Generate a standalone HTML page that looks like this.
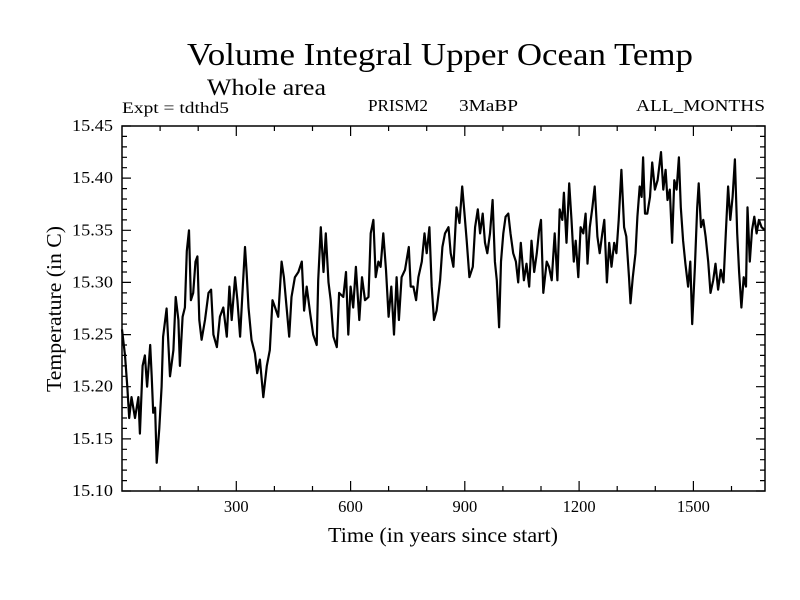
<!DOCTYPE html>
<html><head><meta charset="utf-8"><style>
body{margin:0;background:#fff;}
svg{display:block;font-family:"Liberation Serif",serif;}
</style></head><body>
<svg id="chart" width="800" height="600" viewBox="0 0 800 600">
<rect width="800" height="600" fill="#fff"/>
<text x="187" y="65" font-size="32" textLength="506" lengthAdjust="spacingAndGlyphs">Volume Integral Upper Ocean Temp</text>
<text x="207" y="95" font-size="23" textLength="119" lengthAdjust="spacingAndGlyphs">Whole area</text>
<text x="122" y="113" font-size="16" textLength="107" lengthAdjust="spacingAndGlyphs">Expt = tdthd5</text>
<text x="368" y="111" font-size="17" textLength="60" lengthAdjust="spacingAndGlyphs">PRISM2</text>
<text x="459" y="111" font-size="17" textLength="59" lengthAdjust="spacingAndGlyphs">3MaBP</text>
<text x="636" y="111" font-size="17" textLength="129" lengthAdjust="spacingAndGlyphs">ALL_MONTHS</text>
<g id="axes"></g>
<g id="series"></g>
<text x="328" y="542" font-size="21" textLength="230" lengthAdjust="spacingAndGlyphs">Time (in years since start)</text>
<text transform="translate(61,392) rotate(-90)" font-size="21" textLength="166" lengthAdjust="spacingAndGlyphs">Temperature (in C)</text>
</svg>
<script>
const years=[0,8,14,19,25,34,43,47,54,60,66,74,78,82,87,91,98,104,108,117,126,135,141,148,152,159,165,170,176,181,187,193,198,203,209,218,227,234,240,249,257,266,275,282,288,297,303,310,317,323,327,332,340,349,355,362,371,380,388,395,402,410,419,425,432,439,445,454,463,472,478,485,494,502,511,515,522,529,535,542,548,555,564,570,
581,588,594,600,607,614,623,630,638,647,653,660,666,673,679,686,693,700,707,714,721,727,734,743,753,758,765,772,778,787,794,800,807,813,819,826,835,841,848,857,863,870,878,886,893,899,905,912,921,927,934,940,947,953,959,966,973,979,984,990,995,1001,1007,1014,1020,1027,1034,1040,1047,1055,1062,1069,1075,1082,1089,1095,1100,1106,1115,
1121,1128,1136,1143,1149,1156,1160,1167,1174,1180,1186,1191,1198,1204,1211,1217,1222,1228,1235,1241,1248,1254,1261,1266,1273,1279,1285,1292,1298,1304,1311,1318,1324,1331,1335,1341,1348,1353,1359,1364,1368,1373,1379,1386,1392,1399,1406,1415,1421,1427,1432,1438,1444,1450,1456,1462,1467,1473,1479,1486,1492,1497,1504,1510,1514,1520,1526,1532,1539,1545,1552,1558,1565,1572,1579,1585,1591,1597,1603,1609,1615,1620,1626,1632,1638,1642,1648,1654,1660,1666,1672,1679,1688];
const temps=[15.255,15.23,15.20,15.17,15.19,15.17,15.19,15.155,15.22,15.23,15.20,15.24,15.21,15.175,15.18,15.127,15.16,15.20,15.248,15.275,15.21,15.235,15.286,15.264,15.22,15.267,15.276,15.33,15.35,15.283,15.29,15.32,15.325,15.264,15.245,15.264,15.29,15.293,15.25,15.238,15.267,15.276,15.248,15.296,15.264,15.305,15.283,15.248,15.296,15.334,15.31,15.276,15.245,15.232,15.213,15.226,15.19,15.22,15.235,15.283,15.276,15.267,15.32,15.305,15.276,15.248,15.286,15.305,15.31,15.32,15.273,15.296,15.27,15.25,15.24,15.302,15.353,15.31,15.347,15.30,15.283,15.248,15.238,15.29,
15.286,15.31,15.25,15.296,15.276,15.315,15.264,15.305,15.283,15.286,15.347,15.36,15.305,15.32,15.315,15.347,15.312,15.267,15.296,15.25,15.305,15.264,15.305,15.312,15.334,15.296,15.296,15.283,15.305,15.32,15.347,15.328,15.353,15.296,15.264,15.273,15.302,15.334,15.347,15.353,15.328,15.315,15.372,15.357,15.392,15.366,15.34,15.305,15.315,15.353,15.37,15.347,15.366,15.338,15.328,15.347,15.379,15.32,15.302,15.257,15.32,15.347,15.363,15.366,15.347,15.328,15.32,15.30,15.338,15.302,15.318,15.296,15.34,15.31,15.328,15.35,15.36,15.29,15.32,
15.315,15.302,15.347,15.302,15.37,15.36,15.386,15.338,15.395,15.36,15.32,15.34,15.305,15.353,15.347,15.366,15.318,15.353,15.372,15.392,15.344,15.328,15.347,15.36,15.30,15.338,15.315,15.338,15.328,15.36,15.408,15.353,15.344,15.305,15.28,15.305,15.328,15.363,15.392,15.382,15.42,15.366,15.366,15.382,15.415,15.389,15.398,15.425,15.389,15.408,15.379,15.389,15.338,15.398,15.389,15.42,15.372,15.34,15.318,15.296,15.32,15.26,15.315,15.372,15.395,15.353,15.36,15.344,15.32,15.29,15.302,15.318,15.293,15.312,15.30,15.347,15.392,15.36,15.382,15.418,15.347,15.31,15.276,15.305,15.296,15.372,15.32,15.35,15.363,15.347,15.36,15.353,15.35];
const yTickLabels=["15.10","15.15","15.20","15.25","15.30","15.35","15.40","15.45"];
const xTickLabels=["300","600","900","1200","1500"];

const L=122,R=765,T=126,B=491,X0=0,X1=1688,Y0=15.10,Y1=15.45;
const sx=v=>L+(v-X0)/(X1-X0)*(R-L);
const sy=v=>B-(v-Y0)/(Y1-Y0)*(B-T);
const NS="http://www.w3.org/2000/svg";
const axes=document.getElementById('axes');
function mk(tag,attrs,parent){const e=document.createElementNS(NS,tag);for(const k in attrs)e.setAttribute(k,attrs[k]);parent.appendChild(e);return e;}
const frame=mk('rect',{x:L,y:T,width:R-L,height:B-T,fill:'none',stroke:'#000','stroke-width':1.5},axes);


let d='';
for(let i=0;i<=35;i++){const v=Y0+i*0.01;const y=sy(v).toFixed(1);const len=(i%5===0)?9:5;d+=`M${L},${y}h${len}M${R},${y}h${-len}`;}
for(let yr=100;yr<X1;yr+=100){const x=sx(yr).toFixed(1);const len=(yr%300===0)?10:5;d+=`M${x},${B}v${-len}M${x},${T}v${len}`;}
const ticks=mk('path',{d:d,stroke:'#000','stroke-width':1.2,fill:'none'},axes);


yTickLabels.forEach(s=>{const t=mk('text',{x:113,y:sy(parseFloat(s))+5,'font-size':16.5,'text-anchor':'end',textLength:41,lengthAdjust:'spacingAndGlyphs'},axes);t.textContent=s;

});
xTickLabels.forEach(s=>{const t=mk('text',{x:sx(parseFloat(s)),y:512,'font-size':16.5,'text-anchor':'middle'},axes);t.textContent=s;

});
const pts=years.map((yr,i)=>sx(yr).toFixed(1)+','+sy(temps[i]).toFixed(1)).join(' ');
const line=mk('polyline',{points:pts,fill:'none',stroke:'#000','stroke-width':2.2,'stroke-linejoin':'round'},document.getElementById('series'));


</script>
</body></html>
